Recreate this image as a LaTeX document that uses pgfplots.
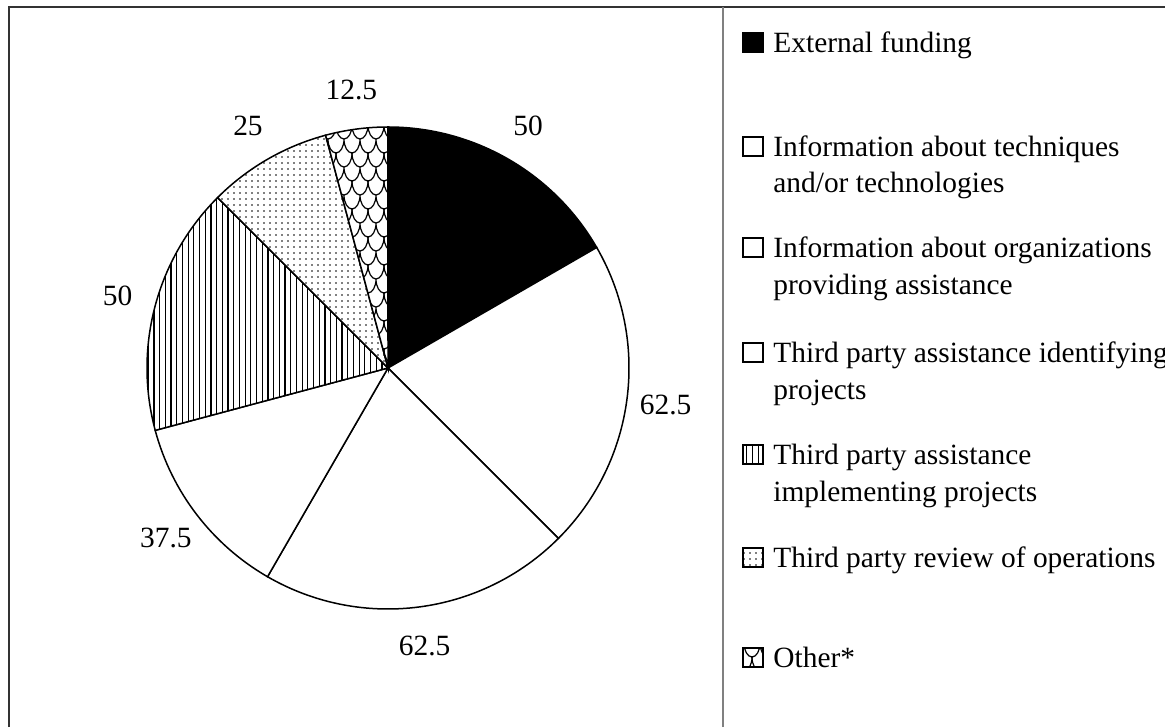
\documentclass[border=0pt]{standalone}
\usepackage{fontspec}
\setmainfont{Liberation Serif}
\usepackage{pgfplots}
\usepackage{pgfplotstable}
\pgfplotsset{compat=1.18}
\usetikzlibrary{patterns.meta}

% scale-like net for the "Other" slice
\pgfdeclarepattern{
  name=scales,
  type=uncolored,
  bottom left={\pgfpoint{-0.5pt}{-0.5pt}},
  top right={\pgfpoint{8.5pt}{14.5pt}},
  tile size={\pgfpoint{8pt}{14pt}},
  code={
    \pgfsetlinewidth{0.6pt}
    \pgfpathmoveto{\pgfpoint{0pt}{7pt}}
    \pgfpatharc{180}{360}{4pt and 7pt}
    \pgfpathmoveto{\pgfpoint{-4pt}{14pt}}
    \pgfpatharc{180}{360}{4pt and 7pt}
    \pgfpathmoveto{\pgfpoint{4pt}{14pt}}
    \pgfpatharc{180}{360}{4pt and 7pt}
    \pgfusepath{stroke}
  }
}

\newcommand\lbl{\fontsize{14.7}{18}\selectfont}

\tikzset{
  pie0/.style={fill=black},
  pie1/.style={fill=white},
  pie2/.style={fill=white},
  pie3/.style={fill=white},
  pie4/.style={fill=white, postaction={pattern={Lines[angle=90,distance=2.85pt,line width=0.6pt]}}},
  pie5/.style={fill=white, postaction={pattern={Dots[distance=3pt,radius=0.45pt]}}},
  pie6/.style={fill=white, postaction={pattern=scales}},
}

% share of each answer, clockwise from 12 o'clock
\pgfplotstableread{
idx value
0 50
1 62.5
2 62.5
3 37.5
4 50
5 25
6 12.5
}\piedata

\begin{document}
\begin{tikzpicture}
% slice angles from the table
\def\pietotal{0}
\pgfplotsforeachungrouped \i in {0,...,6}{%
  \pgfplotstablegetelem{\i}{value}\of\piedata
  \pgfmathsetmacro{\pietotal}{\pietotal+\pgfplotsretval}%
}
\def\curang{90}
\pgfplotsforeachungrouped \i in {0,...,6}{%
  \pgfplotstablegetelem{\i}{value}\of\piedata
  \expandafter\xdef\csname pieV\i\endcsname{\pgfplotsretval}%
  \pgfmathsetmacro{\nextang}{\curang-\pgfplotsretval/\pietotal*360}%
  \pgfmathsetmacro{\midang}{(\curang+\nextang)/2}%
  \expandafter\xdef\csname pieS\i\endcsname{\curang}%
  \expandafter\xdef\csname pieE\i\endcsname{\nextang}%
  \expandafter\xdef\csname pieM\i\endcsname{\midang}%
  \xdef\curang{\nextang}%
}
\begin{axis}[
    at={(0,0)}, anchor=south west,
    width=582.5pt, height=363.5pt, scale only axis,
    xmin=0, xmax=1165, ymin=0, ymax=727,
    hide axis, clip=false,
  ]
  % frame and divider
  \draw[line width=1pt, black!80] (axis cs:8.5,0) -- (axis cs:8.5,720) -- (axis cs:1165,720);
  \draw[line width=0.7pt, black!50] (axis cs:723,0) -- (axis cs:723,720);

  % slices and value labels
  \pgfplotsinvokeforeach{0,...,6}{
    \draw[line width=0.75pt, pie#1] (axis cs:388,359) -- ++(\csname pieS#1\endcsname:120.5pt)
      arc[start angle=\csname pieS#1\endcsname, end angle=\csname pieE#1\endcsname, radius=120.5pt] -- cycle;
    \path (axis cs:388,359) ++(\csname pieM#1\endcsname:140pt) node[font=\lbl, inner sep=0pt] {\csname pieV#1\endcsname};
  }

  % legend
  \draw[line width=0.6pt, pie0] (axis cs:743,675) rectangle ++(10pt,9.5pt);
  \draw[line width=0.6pt, pie1] (axis cs:743,571) rectangle ++(10pt,9.5pt);
  \draw[line width=0.6pt, pie2] (axis cs:743,470) rectangle ++(10pt,9.5pt);
  \draw[line width=0.6pt, pie3] (axis cs:743,365) rectangle ++(10pt,9.5pt);
  \draw[line width=0.6pt, pie4] (axis cs:743,263) rectangle ++(10pt,9.5pt);
  \draw[line width=0.6pt, pie5] (axis cs:743,160) rectangle ++(10pt,9.5pt);
  \draw[line width=0.6pt, pie6] (axis cs:743,60) rectangle ++(10pt,9.5pt);

  \node[anchor=base west, inner sep=0pt, font=\lbl] at (axis cs:773,674) {External funding};
  \node[anchor=base west, inner sep=0pt, font=\lbl] at (axis cs:773,570) {Information about techniques};
  \node[anchor=base west, inner sep=0pt, font=\lbl] at (axis cs:773,534) {and/or technologies};
  \node[anchor=base west, inner sep=0pt, font=\lbl] at (axis cs:773,469) {Information about organizations};
  \node[anchor=base west, inner sep=0pt, font=\lbl] at (axis cs:773,432) {providing assistance};
  \node[anchor=base west, inner sep=0pt, font=\lbl] at (axis cs:773,364) {Third party assistance identifying};
  \node[anchor=base west, inner sep=0pt, font=\lbl] at (axis cs:773,327) {projects};
  \node[anchor=base west, inner sep=0pt, font=\lbl] at (axis cs:773,262) {Third party assistance};
  \node[anchor=base west, inner sep=0pt, font=\lbl] at (axis cs:773,225) {implementing projects};
  \node[anchor=base west, inner sep=0pt, font=\lbl] at (axis cs:773,159) {Third party review of operations};
  \node[anchor=base west, inner sep=0pt, font=\lbl] at (axis cs:773,59) {Other*};
\end{axis}
\pgfresetboundingbox
\useasboundingbox (0,0) rectangle (582.5pt,363.5pt);
\end{tikzpicture}
\end{document}
